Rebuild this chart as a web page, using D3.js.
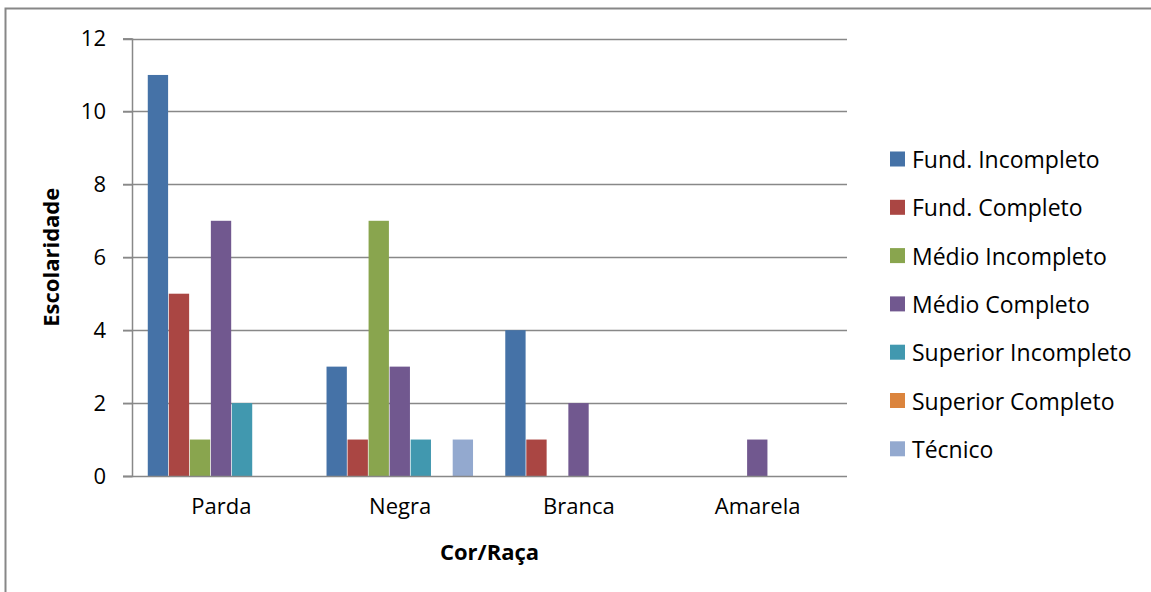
<!DOCTYPE html>
<html>
<head>
<meta charset="utf-8">
<script src="https://cdn.jsdelivr.net/npm/d3@7"></script>
<style>
  body { margin: 0; background: #fff; }
  text { font-family: "Open Sans", "DejaVu Sans", sans-serif; fill: #000; }
</style>
</head>
<body>
<svg id="chart" width="1151" height="592"></svg>
<script>
const categories = ["Parda", "Negra", "Branca", "Amarela"];
const series = ["Fund. Incompleto", "Fund. Completo", "Médio Incompleto", "Médio Completo",
  "Superior Incompleto", "Superior Completo", "Técnico"];
const colors = ["#4572A7", "#AA4643", "#89A54E", "#71588F", "#4198AF", "#DB843D", "#93A9CF"];
// values per category, in series order
const parda = [11, 5, 1, 7, 2, 0, 0];
const negra = [3, 1, 7, 3, 1, 0, 1];
const branca = [4, 1, 0, 2, 0, 0, 0];
const amarela = [0, 0, 0, 1, 0, 0, 0];
const yTicks = [0, 2, 4, 6, 8, 10, 12];

const values = [parda, negra, branca, amarela];

const svg = d3.select("#chart");
const plot = { left: 132, right: 847, top: 38.5, bottom: 476 };

// outer chart border (only top and left visible)
svg.append("rect")
  .attr("x", 5.5).attr("y", 8.5)
  .attr("width", 1200).attr("height", 700)
  .attr("fill", "none").attr("stroke", "#878787").attr("stroke-width", 2);

const x0 = d3.scaleBand().domain(categories).range([plot.left, plot.right]).padding(0);
const x1 = d3.scaleBand().domain(series).range([0, x0.bandwidth()])
  .paddingInner(0).paddingOuter(0.75);
const y = d3.scaleLinear().domain([0, 12]).range([plot.bottom, plot.top]);

// gridlines
svg.append("g").selectAll("line")
  .data(yTicks.filter(d => d > 0))
  .enter().append("line")
  .attr("x1", plot.left - 9).attr("x2", plot.right)
  .attr("y1", d => Math.round(y(d)) + 0.5).attr("y2", d => Math.round(y(d)) + 0.5)
  .attr("stroke", "#888").attr("stroke-width", 1.5);

// y axis
const yAxis = svg.append("g")
  .attr("transform", `translate(${plot.left},0)`)
  .call(d3.axisLeft(y).tickValues(yTicks).tickSize(9).tickPadding(17));
yAxis.select(".domain").attr("stroke", "#888").attr("stroke-width", 1.5);
yAxis.selectAll(".tick line").attr("stroke", "#888").attr("stroke-width", 1.5);
yAxis.selectAll("text").attr("font-size", 22).style("font-family", "'Open Sans'");

// bars
const groups = svg.append("g").selectAll("g")
  .data(categories)
  .enter().append("g")
  .attr("transform", d => `translate(${x0(d)},0)`);

groups.selectAll("rect")
  .data((c, i) => values[i].map((v, j) => ({ s: series[j], v: v, c: colors[j] })))
  .enter().append("rect")
  .attr("x", d => x1(d.s))
  .attr("width", x1.bandwidth() - 0.7)
  .attr("y", d => y(d.v))
  .attr("height", d => y(0) - y(d.v))
  .attr("fill", d => d.c);

// x axis baseline
const xAxis = svg.append("g")
  .attr("transform", `translate(0,${Math.round(y(0)) + 0.5})`)
  .call(d3.axisBottom(x0).tickSize(0).tickPadding(22));
xAxis.select(".domain").attr("stroke", "#888").attr("stroke-width", 1.5)
  .attr("d", `M${plot.left - 9},0H${plot.right}`);
xAxis.selectAll("text").attr("font-size", 22).style("font-family", "'Open Sans'");

// axis titles
svg.append("text")
  .attr("transform", `translate(50,${(plot.top + plot.bottom) / 2}) rotate(-90)`)
  .attr("text-anchor", "middle").attr("dominant-baseline", "central")
  .attr("font-size", 22).attr("font-weight", "bold")
  .text("Escolaridade");

svg.append("text")
  .attr("x", (plot.left + plot.right) / 2).attr("y", 560)
  .attr("text-anchor", "middle")
  .attr("font-size", 22).attr("font-weight", "bold")
  .text("Cor/Raça");

// legend
const legend = svg.append("g").attr("transform", "translate(890,159)");
const item = legend.selectAll("g")
  .data(series)
  .enter().append("g")
  .attr("transform", (d, i) => `translate(0,${i * 48.3})`);
item.append("rect")
  .attr("x", 0).attr("y", -7.5).attr("width", 15).attr("height", 15)
  .attr("fill", (d, i) => colors[i]);
item.append("text")
  .attr("x", 22).attr("y", 0)
  .attr("dominant-baseline", "central")
  .attr("font-size", 23)
  .text(d => d);
</script>
</body>
</html>
